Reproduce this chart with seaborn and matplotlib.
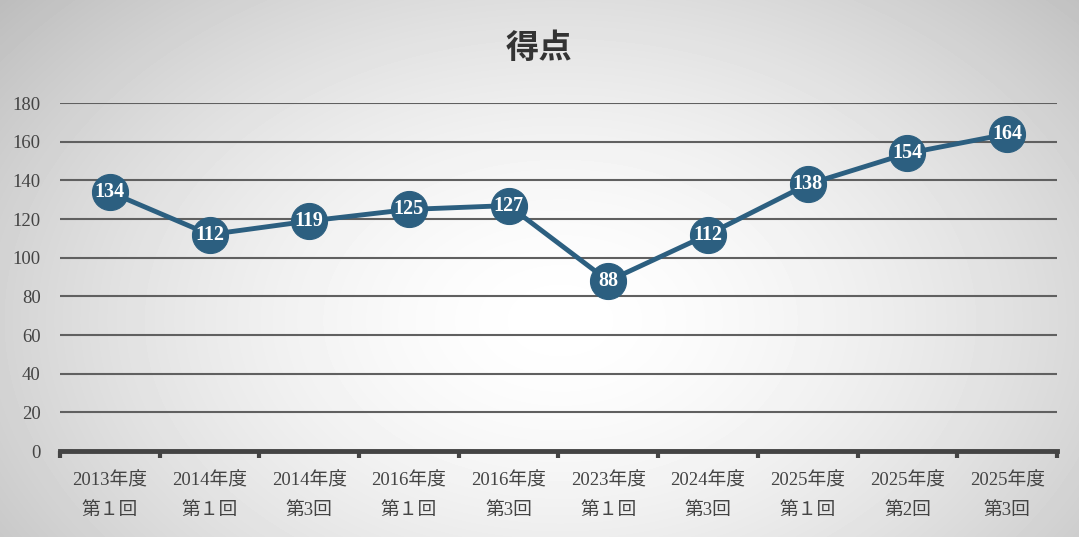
import matplotlib
matplotlib.use('Agg')

import matplotlib.pyplot as plt
import numpy as np
import pandas as pd
import seaborn as sns

# data
years = ['2013年度', '2014年度', '2014年度', '2016年度', '2016年度',
         '2023年度', '2024年度', '2025年度', '2025年度', '2025年度']
rounds = ['第１回', '第１回', '第3回', '第１回', '第3回',
          '第１回', '第3回', '第１回', '第2回', '第3回']
scores = [134, 112, 119, 125, 127, 88, 112, 138, 154, 164]

labels = [f'{y}\n{r}' for y, r in zip(years, rounds)]
df = pd.DataFrame({'pos': range(len(scores)), 'score': scores})

sns.set_style("white")
plt.rcParams['font.family'] = ['Liberation Serif', 'Noto Sans CJK JP']

BLUE = '#2c5f80'
fig = plt.figure(figsize=(10.79, 5.37), dpi=100)

# radial gradient background
bg = fig.add_axes([0, 0, 1, 1], zorder=-10)
h, w = 537, 1079
yy, xx = np.mgrid[0:h, 0:w]
r = np.sqrt(((xx - 560) / 620.0) ** 2 + ((yy - 320) / 420.0) ** 2)
shade = 1.0 - 0.2 * np.clip(r, 0, 1.3) ** 1.6
bg.imshow(shade, cmap='gray', vmin=0, vmax=1, aspect='auto')
bg.axis('off')

ax = fig.add_axes([0.0556, 0.160, 0.924, 0.648])
ax.patch.set_alpha(0)

sns.lineplot(data=df, x='pos', y='score', ax=ax, color=BLUE, linewidth=3.5,
             marker='o', markersize=26, markeredgecolor=BLUE, zorder=3)

for x, v in zip(df['pos'], df['score']):
    ax.text(x, v, str(v), ha='center', va='center', color='white',
            fontsize=14.5, fontweight='bold', zorder=4,
            family=['Liberation Serif', 'Noto Sans CJK JP'])

ax.set_xlim(-0.5, len(scores) - 0.5)
ax.set_ylim(0, 180)
ax.set_yticks(range(0, 181, 20))
ax.set_xticks(range(len(scores)))
ax.set_xticklabels(labels, linespacing=2.0)
ax.set_xticks(np.arange(-0.5, len(scores), 1), minor=True)
ax.tick_params(axis='x', which='major', bottom=True, length=0, pad=15,
               labelsize=13.5, labelcolor='#444444')
ax.tick_params(axis='x', which='minor', bottom=True, length=5, width=3,
               color='#444444', direction='out')
ax.tick_params(axis='y', left=False, length=0, pad=14, labelsize=13.5, labelcolor='#444444')

ax.grid(axis='y', color='#606060', linewidth=1.5)
ax.set_axisbelow(True)
for s in ['top', 'right', 'left']:
    ax.spines[s].set_visible(False)
ax.spines['bottom'].set_color('#444444')
ax.spines['bottom'].set_linewidth(3.5)
ax.set_xlabel('')
ax.set_ylabel('')

fig.text(0.5, 0.91, '得点', ha='center', va='center', fontsize=24,
         fontweight='bold', color='#333333', family=['Noto Sans CJK JP'])

fig.savefig('out.png', dpi=100)
